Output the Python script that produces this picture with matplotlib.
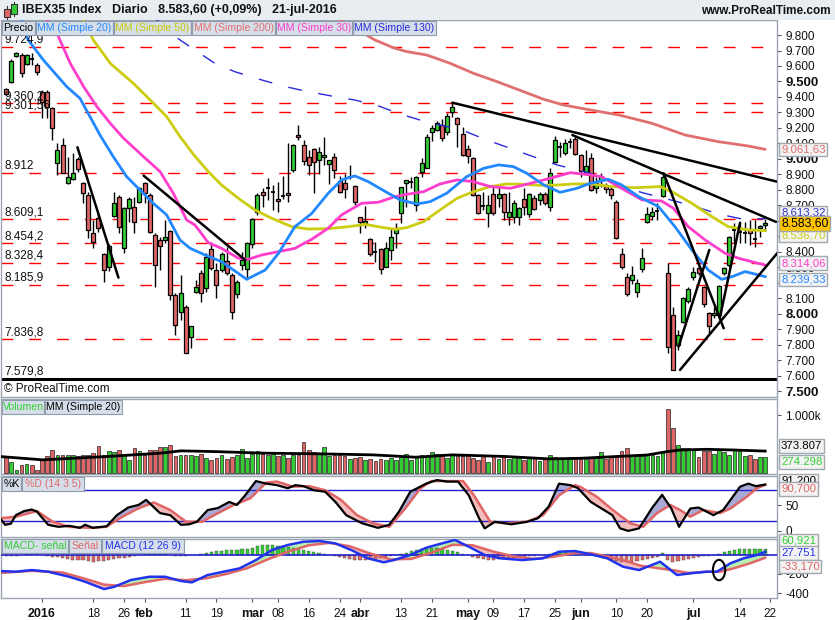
import numpy as np
import matplotlib
matplotlib.use('Agg')
import matplotlib.pyplot as plt
from matplotlib.patches import Rectangle, Ellipse
import matplotlib.transforms as mtransforms

plt.rcParams['font.family'] = ['Liberation Sans', 'DejaVu Sans']

# ---------------- data (trading-day index: 0 = 4-jan-2016) ----------------
day_index = list(range(-7, 142))
opens = [9449, 9499, 9665, 9671, 9613, 9645, 9604,
         9434, 9434, 9327, 8971, 9090, 8847, 8868, 8997, 8847, 8767, 8519, 8616, 8384, 8304, 8633, 8756, 8422, 8681, 8692, 8724,
         8847, 8767, 8508, 8476, 8476, 8534, 8121, 8013, 8046, 7852, 8138, 8261, 8164, 8416, 8282, 8282, 8338, 8248, 8125, 8315, 8287,
         8448, 8659, 8784, 8808, 8784, 8739, 8761, 8778, 8928, 9152, 9092, 9014, 9062, 8993, 9014, 8965, 9014, 8859, 8842, 8885, 8825,
         8623, 8584, 8481, 8401, 8416, 8304, 8412, 8519, 8653, 8847, 8853, 8702, 8913, 8943, 9176, 9187, 9219, 9172, 9305, 9266, 9159,
         9062, 9004, 8767, 8694, 8653, 8771, 8745, 8771, 8627, 8623, 8623, 8739, 8644, 8745, 8735, 8773, 8687, 8982, 9075, 9040, 9111, 9126,
         9025, 8913, 9004, 8810, 8864, 8825, 8803, 8724, 8384, 8235, 8218, 8143, 8287, 8595, 8633, 8659, 8760, 8261, 7992, 7798, 7949, 8082,
         8235, 8297, 8170, 8003, 7992, 7992, 8261, 8315, 8540, 8530, 8522, 8545, 8484, 8552, 8576]
highs = [9456, 9643, 9693, 9682, 9678, 9682, 9617,
         9445, 9445, 9337, 9101, 9133, 9014, 9036, 9014, 8853, 8788, 8605, 8648, 8390, 8450, 8788, 8767, 8692, 8756, 8756, 8821,
         8853, 8778, 8519, 8498, 8605, 8541, 8132, 8250, 8056, 7921, 8218, 8282, 8390, 8465, 8325, 8401, 8433, 8261, 8218, 8401, 8465,
         8616, 8778, 8810, 8875, 8831, 8853, 8890, 9101, 9096, 9219, 9122, 9057, 9068, 9075, 9139, 8993, 9040, 8890, 8900, 8961, 8830,
         8627, 8698, 8487, 8465, 8422, 8465, 8552, 8584, 8821, 8864, 8885, 8890, 9004, 9159, 9219, 9245, 9256, 9294, 9363, 9273, 9204,
         9090, 9010, 8771, 8788, 8767, 8831, 8831, 8778, 8788, 8735, 8692, 8810, 8782, 8767, 8788, 8788, 8939, 9148, 9111, 9129, 9133, 9154,
         9030, 9057, 9036, 8885, 8907, 8842, 8821, 8735, 8422, 8265, 8310, 8222, 8422, 8692, 8692, 8713, 8907, 8325, 8046, 7895, 8110, 8175,
         8304, 8325, 8179, 8013, 8046, 8186, 8304, 8502, 8584, 8588, 8595, 8605, 8605, 8573, 8610]
lows = [9413, 9492, 9660, 9531, 9607, 9607, 9542,
        9262, 9262, 9122, 8896, 8907, 8838, 8864, 8918, 8713, 8487, 8422, 8530, 8207, 8276, 8627, 8519, 8390, 8595, 8519, 8713,
        8713, 8519, 8175, 8282, 8455, 8089, 7863, 7960, 7744, 7777, 8132, 8078, 8143, 8282, 8099, 8272, 8250, 7964, 8099, 8282, 8229,
        8422, 8638, 8692, 8735, 8670, 8659, 8739, 8724, 8918, 9122, 8961, 8896, 8778, 8900, 8961, 8838, 8874, 8778, 8745, 8868, 8700,
        8524, 8552, 8373, 8336, 8254, 8300, 8347, 8422, 8588, 8692, 8810, 8666, 8885, 8939, 9116, 9180, 9116, 9154, 9273, 9079, 9021,
        8976, 8760, 8644, 8670, 8558, 8638, 8692, 8605, 8573, 8584, 8573, 8638, 8627, 8670, 8702, 8702, 8666, 8971, 9014, 9025, 9068, 9025,
        8885, 8907, 8795, 8782, 8821, 8778, 8739, 8481, 8287, 8115, 8192, 8106, 8272, 8584, 8605, 8605, 8756, 7744, 7637, 7766, 7938, 8067,
        8218, 8250, 8046, 7873, 7970, 7981, 8250, 8304, 8455, 8455, 8455, 8444, 8433, 8498, 8537]
closes = [9419, 9635, 9682, 9553, 9671, 9643, 9559,
          9370, 9337, 9198, 9057, 8911, 8885, 8908, 8933, 8782, 8541, 8465, 8552, 8282, 8437, 8717, 8562, 8685, 8739, 8595, 8810,
          8778, 8526, 8315, 8437, 8493, 8121, 7927, 8136, 7744, 7921, 8175, 8132, 8364, 8293, 8186, 8384, 8261, 8009, 8207, 8347, 8455,
          8610, 8767, 8767, 8812, 8784, 8730, 8765, 8765, 9088, 9139, 8987, 8961, 8982, 9047, 9027, 8991, 8928, 8784, 8803, 8885, 8720,
          8595, 8601, 8384, 8399, 8289, 8422, 8493, 8552, 8816, 8862, 8853, 8881, 8971, 9144, 9197, 9230, 9137, 9279, 9333, 9223, 9025,
          9019, 8767, 8648, 8692, 8700, 8653, 8771, 8659, 8659, 8717, 8681, 8692, 8771, 8674, 8773, 8713, 8911, 9122, 9075, 9105, 9111, 9032,
          8922, 8956, 8799, 8847, 8890, 8803, 8767, 8487, 8300, 8125, 8248, 8196, 8358, 8644, 8659, 8662, 8881, 7787, 7637, 7863, 8099, 8158,
          8267, 8261, 8061, 7921, 8003, 8181, 8297, 8498, 8545, 8530, 8526, 8524, 8481, 8569, 8583.6]
volume_k = [280, 190, 50, 135, 150, 135, 50,
            220, 290, 395, 310, 300, 310, 300, 280, 300, 310, 340, 460, 310, 380, 360, 390, 310, 220, 420, 370,
            310, 400, 390, 440, 450, 480, 280, 300, 300, 300, 290, 330, 260, 220, 260, 300, 230, 270, 300, 410, 250,
            320, 370, 330, 310, 330, 280, 300, 260, 300, 310, 530, 400, 360, 330, 440, 280, 310, 300, 280, 230, 260,
            270, 210, 230, 200, 230, 210, 250, 220, 270, 330, 220, 250, 300, 290, 360, 320, 320, 260, 330, 280, 280,
            300, 250, 210, 290, 190, 290, 240, 270, 230, 270, 250, 220, 250, 250, 200, 260, 310, 270, 240, 230, 260, 250,
            230, 230, 250, 260, 350, 240, 290, 290, 370, 430, 310, 280, 280, 330, 300, 280, 360, 1100, 780, 480, 420, 430,
            410, 270, 380, 380, 320, 400, 360, 310, 400, 370, 290, 300, 230, 270, 274.298]
macd_hist = [-15, -18, -15, -10, 5, 10, 8,
             -5, -15, -25, -30, -40, -50, -55, -60, -60, -70, -75, -70, -65, -55, -45, -40, -35, -25, -15, -5,
             10, 20, 25, 25, 15, -5, -15, -20, -20, -10, -5,
             10, 20, 30, 35, 40, 45, 45, 50, 55, 60,
             70, 85, 95, 100, 95, 90, 85,
             75, 65, 55, 45, 35, 25, 15, 5, -5, -15, -25,
             -35, -45, -55, -60, -55, -50, -45, -40, -30, -20, -10, 5,
             20, 35, 45, 55, 65, 70, 65, 60, 50, 40, 25, 10,
             -10, -25, -40, -50, -55, -55, -50, -45, -40, -35, -30, -25, -20, -15, -10, -5,
             10, 20, 25, 25, 20, 15, 10, 5,
             -10, -20, -30, -40, -55, -70, -80, -80, -75, -70, -60, -50, -40, -30,
             15,
             -60, -75, -70, -60, -50, -40, -30, -20, -15, -10,
             10, 25, 35, 45, 55, 60, 62, 60, 58, 60.921]

# moving averages read at sample positions (day index, value)
ma20_x = [-4, -2.7, 0.25, 4.8, 7.4, 9, 11.3, 13.9, 16.5, 19.1, 21.7, 24.3, 26.9, 28.9, 31.8, 35, 37.6, 39.9, 43.5, 46.1, 49.3, 52.6,
          55.8, 58.4, 61, 63.6, 66.2, 69.8, 73.1, 75.7, 78.9, 82.8, 86.1, 89, 91.9, 94.5, 97.8, 101, 104.3, 106.9, 110.4, 113,
          116.3, 120.2, 123.4, 126.7, 129.9, 132.5, 134.5, 137.1, 141]
ma20_y = [9900, 9768, 9639, 9467, 9391, 9294, 9154, 9014, 8885, 8799, 8713, 8638, 8476, 8422, 8379, 8336, 8276, 8222, 8282, 8390,
          8562, 8648, 8778, 8864, 8890, 8853, 8803, 8735, 8709, 8724, 8778, 8885, 8939, 8961, 8950, 8907, 8832, 8784, 8810, 8842,
          8868, 8832, 8756, 8692, 8562, 8412, 8282, 8222, 8239, 8272, 8239.33]
ma30_x = [1.0, 3.2, 5.5, 8.1, 10.7, 13.3, 15.9, 19.8, 23, 25.6, 28.2, 29.8, 30.8, 32.4, 35, 38.3, 40.2, 42.8, 46.1, 49.3, 52.6, 55.8,
          58.4, 62.3, 65.6, 68.8, 71.1, 74.4, 77.6, 80.9, 84.1, 87.4, 91.3, 95.2, 99.1, 103, 106.9, 109.1, 112.4, 117, 120.8,
          123.1, 126, 129.3, 133.2, 135.8, 141]
ma30_y = [9900, 9790, 9617, 9467, 9337, 9230, 9133, 9014, 8918, 8778, 8605, 8573, 8530, 8459, 8422, 8358, 8351, 8379, 8401, 8422,
          8481, 8552, 8638, 8713, 8720, 8756, 8771, 8788, 8838, 8864, 8853, 8821, 8810, 8842, 8875, 8911, 8896, 8885, 8821, 8735,
          8728, 8681, 8562, 8476, 8390, 8358, 8314.06]
ma50_x = [8, 10, 13.3, 17.8, 21.1, 24.3, 26.9, 29.5, 32.4, 35, 38.3, 41.5, 44.8, 48.7, 51.9, 55.8, 59.7, 63, 66.2, 68.8, 71.1, 74.4,
          77.6, 80.9, 84.1, 87.4, 90.6, 93.9, 97.1, 100.4, 103.6, 106.9, 111.1, 115.6, 120.5, 122.8, 126.7, 130.6, 133.8, 137.7, 141]
ma50_y = [9900, 9768, 9617, 9488, 9380, 9273, 9144, 9030, 8918, 8831, 8745, 8670, 8616, 8562, 8547, 8549, 8562, 8577, 8558, 8545,
          8556, 8595, 8670, 8745, 8788, 8821, 8838, 8836, 8829, 8831, 8838, 8838, 8821, 8814, 8821, 8788, 8713, 8627, 8562, 8541,
          8536.70]
ma200_x = [58, 64.9, 68.8, 71.1, 75, 79.6, 84.1, 88.7, 93.9, 97.8, 101.7, 105.9, 112.4, 118.9, 125.4, 131.9, 137.7, 141]
ma200_y = [9900, 9768, 9714, 9693, 9671, 9617, 9553, 9499, 9434, 9385, 9348, 9322, 9284, 9230, 9154, 9111, 9083, 9061.63]
ma130_x = [22, 25.5, 29.8, 33.7, 37.6, 42.8, 47.4, 51.9, 57.1, 61, 65.6, 69.8, 73.7, 77.6, 82.2, 86.7, 91.3, 95.8, 100.4,
           104.3, 106.9, 112, 117, 122.1, 127.3, 131.9, 136.4, 141]
ma130_y = [9910, 9800, 9703, 9617, 9563, 9510, 9467, 9434, 9402, 9380, 9342, 9290, 9251, 9219, 9182, 9122, 9068, 9014, 8961,
           8928, 8907, 8840, 8782, 8739, 8692, 8644, 8612, 8613.32]
vol_ma_x = [-8.2, 0.1, 12.6, 23, 27.1, 33.3, 43.7, 54.1, 64.5, 72.8, 80, 90.5, 98.8, 104.9, 111.3, 117.9, 121.8, 124.4, 129.6,
            134.8, 141]
vol_ma_y = [279, 221, 279, 337, 378, 366, 337, 326, 308, 267, 308, 279, 238, 248, 276, 305, 363, 393, 405, 393, 373.807]

stoch_k_x = [-8.2, -7.2, -6.1, -5.1, -3.5, -2, -1, 1.2, 3.2, 5.3, 7.4, 8.4, 9.9, 12.6, 14.6, 16.8, 18.8, 20.3, 23, 25, 27.1,
             28.7, 30.2, 32.3, 34.3, 36.5, 38, 39.6, 41.7, 43.7, 45.8, 47.9, 49.4, 51, 53, 55.2, 57.2, 59.3, 62.4, 65.5, 67.7,
             69.6, 71.8, 74.9, 77, 79, 81.1, 83.2, 85.2, 86.3, 88.3, 91.5, 94.6, 96.7, 98.8, 100.8, 103, 104.5, 107, 109.1,
             111.2, 112.7, 114.3, 116.4, 119, 120.9, 122.7, 124.2, 126.4, 128, 130.9, 132.8, 136.1, 137.7, 139.2, 141]
stoch_k_y = [25, 12, 14, 31, 39, 42, 38, 12, 8, 10, 6, 12, 6, 9, 31, 46, 51, 61, 35, 31, 12, 13, 18, 41, 45, 57, 51, 70, 98,
             93, 90, 84, 90, 88, 80, 77, 57, 31, 15, 6, 12, 38, 77, 93, 100, 97, 97, 70, 25, 5, 18, 13, 18, 25, 48, 93, 90, 84,
             57, 44, 31, 5, 0, 5, 46, 71, 44, 8, 44, 46, 31, 41, 87, 93, 88, 91.2]
stoch_d_x = [-8.2, -5.1, -1, 2.1, 5.3, 9.4, 12.5, 15.7, 18.7, 21.8, 25, 28.1, 31.2, 34.3, 37.4, 40.6, 43.7, 45.8, 48.9, 52.1,
             55.2, 58.3, 61.4, 64.5, 67.7, 70.8, 73.8, 75.9, 82.1, 84.2, 87.4, 90.5, 94.6, 97.7, 100.8, 103.9, 104.9, 108.2,
             111.3, 114.7, 117.2, 119.9, 122.5, 124.4, 126.4, 128.9, 132.2, 134.2, 137.4, 139.4, 141]
stoch_d_y = [25, 28, 39, 18, 8, 6, 8, 28, 44, 56, 41, 18, 18, 35, 51, 64, 95, 97, 87, 88, 80, 61, 31, 15, 8, 44, 84, 98, 98,
             70, 18, 15, 18, 31, 70, 90, 87, 67, 41, 15, 8, 35, 51, 41, 28, 41, 35, 44, 67, 84, 90.7]

macd_x = [-8.2, -5.1, -2, 1.2, 5.3, 8.4, 12.1, 14.1, 17.3, 20.9, 24, 27.1, 29.2, 32.3, 35.4, 38.5, 41.7, 44.8, 47.9, 51, 54.1,
          57.2, 60.3, 63.5, 66.6, 68.6, 71.8, 74.9, 78, 80.5, 83.2, 86.3, 89.4, 93.6, 97.7, 100.8, 103.9, 107, 110.2, 113.3,
          116.4, 120.5, 123.8, 126.4, 129.6, 131.6, 134.2, 136.8, 139.4, 141]
macd_y = [-170, -177, -160, -177, -229, -280, -356, -332, -263, -229, -229, -273, -287, -211, -177, -143, -57, 46, 98, 132,
          139, 115, 46, -39, -80, -57, -5, 70, 115, 150, 81, -5, -39, -57, -39, 29, 36, 2, -39, -126, -160, -74, -211, -194,
          -177, -177, -91, -39, -5, 27.751]
signal_x = [-8.2, -2, 4, 8.4, 12.1, 16, 20, 24, 28, 32, 36, 40, 44, 48, 52, 56, 60, 64, 68, 72, 76, 80, 84, 88, 92, 96, 100,
            104, 107, 110.2, 113.5, 116.7, 120, 123.4, 126, 129.6, 132.2, 134.8, 138, 141]
signal_y = [-190, -168, -185, -250, -310, -325, -285, -250, -265, -245, -200, -140, -50, 30, 95, 120, 85, 10, -50, -45, 20,
            100, 95, 30, -20, -45, -20, 15, 15, -20, -60, -115, -140, -165, -190, -177, -177, -143, -91, -33.17]

# horizontal support / resistance levels
level_values = [9724.9, 9360.2, 9301.56, 8912, 8609.1, 8454.2, 8328.4, 8185.9, 7836.8]
level_labels = ['9.724,9', '9.360,2', '9.301,56', '8.912', '8.609,1', '8.454,2', '8.328,4', '8.185,9', '7.836,8']
floor_value = 7579.8
floor_label = '7.579,8'

# hand-drawn trend lines ((day, price), (day, price))
trend_lines = [((6.9, 9075), (14.9, 8233)),
               ((19.8, 8892), (39.6, 8347)),
               ((80.0, 9363), (143.3, 8853)),
               ((103.4, 9154), (143.1, 8593)),
               ((121.2, 8907), (132.9, 7906)),
               ((124.1, 7787), (130.1, 8412)),
               ((132.2, 7981), (136.1, 8588)),
               ((124.4, 7637), (143.6, 8401))]

xtick_pos = [0, 10, 16, 20, 28, 34, 41, 46, 52, 58, 62, 70, 76, 83, 88, 94, 100, 105, 112, 118, 127, 136, 142]
xtick_lab = ['2016', '18', '26', 'feb', '11', '19', 'mar', '08', '16', '24', 'abr', '13', '21', 'may', '09', '17', '25',
             'jun', '10', '20', 'jul', '14', '22']
bold_ticks = {'2016', 'feb', 'mar', 'abr', 'may', 'jun', 'jul'}

# ---------------- figure ----------------
W, H = 835, 620
fig = plt.figure(figsize=(W / 100, H / 100), dpi=100)
fig.patch.set_facecolor('white')

GREEN = '#33CC33'
RED = '#E06666'
BORDER = '#9AA5B1'


def ax_px(x0, y0, x1, y1):
    return fig.add_axes([x0 / W, 1 - y1 / H, (x1 - x0) / W, (y1 - y0) / H])


def fig_rect(x0, y0, x1, y1, **kw):
    fig.patches.append(Rectangle((x0 / W, 1 - y1 / H), (x1 - x0) / W, (y1 - y0) / H,
                                 transform=fig.transFigure, **kw))


def es(v, dec=0):
    s = f"{v:,.{dec}f}"
    return s.replace(',', 'X').replace('.', ',').replace('X', '.')


# header strip
fig_rect(0, 0, W, 20, facecolor='#E8EDF2', edgecolor='none', zorder=0)
fig.lines.append(plt.Line2D([7 / W, 7 / W], [1 - 6 / H, 1 - 19 / H], transform=fig.transFigure, color='#333', lw=0.8))
fig_rect(4, 9, 10, 17, facecolor=RED, edgecolor='#333', lw=0.8, zorder=2)
fig.lines.append(plt.Line2D([14 / W, 14 / W], [1 - 2 / H, 1 - 16 / H], transform=fig.transFigure, color='#333', lw=0.8))
fig_rect(11, 4, 17, 14, facecolor=GREEN, edgecolor='#333', lw=0.8, zorder=2)
fig.text(22 / W, 1 - 10.5 / H, 'IBEX35 Index   Diario   8.583,60 (+0,09%)   21-jul-2016', fontsize=9,
         fontweight='bold', va='center', ha='left', color='#111')
fig.text(831 / W, 1 - 10.5 / H, 'www.ProRealTime.com', fontsize=8.5, fontweight='bold', va='center', ha='right',
         color='#111')

ax = ax_px(1, 20, 777, 397)
axv = ax_px(1, 399, 777, 474)
axs = ax_px(1, 476, 777, 537)
axm = ax_px(1, 539, 777, 598)

XMIN, XMAX = -8.0, 143.3
for a in (ax, axv, axs, axm):
    a.set_xlim(XMIN, XMAX)
    a.set_facecolor('white')
    for sp in a.spines.values():
        sp.set_color(BORDER)
        sp.set_linewidth(1)
    a.yaxis.tick_right()
    a.tick_params(axis='y', length=3, color='#555', labelsize=8.5, pad=3, labelcolor='#111')
    a.set_xticks([])

# ---------------- main price panel ----------------
ax.set_ylim(7462, 9897)
ylab_tr = ax.get_yaxis_transform()
for v, lab in zip(level_values, level_labels):
    ax.axhline(v, color='#FF0000', lw=1.0, ls=(0, (8.5, 11.5)), zorder=1)
    ax.text(0.004, v + 6, lab, transform=ylab_tr, fontsize=8.5, va='bottom', ha='left', color='#111', zorder=6)
ax.axhline(floor_value, color='black', lw=2.2, zorder=2)
ax.text(0.004, floor_value + 8, floor_label, transform=ylab_tr, fontsize=8.5, va='bottom', ha='left',
        color='#111', zorder=6)
ax.text(0.004, 7475, '\u00a9 ProRealTime.com', transform=ylab_tr, fontsize=8.5, va='bottom',
        ha='left', color='#111', zorder=6)

# candles
BW = 0.78
for i, o, h, l, c in zip(day_index, opens, highs, lows, closes):
    ax.vlines(i, l, h, color='black', lw=1.0, zorder=3)
    if abs(c - o) < 6:
        ax.hlines((o + c) / 2, i - BW / 2, i + BW / 2, color='black', lw=1.3, zorder=4)
    else:
        ax.add_patch(Rectangle((i - BW / 2, min(o, c)), BW, abs(c - o), facecolor=GREEN if c > o else RED,
                               edgecolor='black', lw=0.9, zorder=4))

ax.plot(ma200_x, ma200_y, color='#E07070', lw=2.0, zorder=5, solid_capstyle='round')
ax.plot(ma130_x, ma130_y, color='#2A2ADD', lw=1.0, ls=(0, (10, 12)), zorder=5)
ax.plot(ma50_x, ma50_y, color='#CCCC11', lw=2.0, zorder=5)
ax.plot(ma30_x, ma30_y, color='#FF3DCB', lw=2.0, zorder=5)
ax.plot(ma20_x, ma20_y, color='#2288FF', lw=2.0, zorder=5)

for (x0, y0), (x1, y1) in trend_lines:
    ax.plot([x0, x1], [y0, y1], color='black', lw=1.8, zorder=6, solid_capstyle='round')

yt = np.arange(7500, 9801, 100)
ax.set_yticks(yt)
ax.set_yticklabels([es(v) for v in yt])
for t, v in zip(ax.get_yticklabels(), yt):
    if v % 500 == 0:
        t.set_fontweight('bold')
        t.set_fontsize(9.5)


def tag(axis, value, text, color, fc='#F3F3F3', dy=0, size=8.2, weight='normal'):
    tr = mtransforms.blended_transform_factory(axis.transAxes, axis.transData)
    axis.annotate(text, xy=(1.0, value), xycoords=tr, xytext=(4, dy), textcoords='offset pixels',
                  va='center', ha='left', fontsize=size, color=color, fontweight=weight, zorder=10,
                  annotation_clip=False,
                  bbox=dict(boxstyle='square,pad=0.15', facecolor=fc, edgecolor='#A0A8B0', lw=1.0))


tag(ax, ma200_y[-1], es(ma200_y[-1], 2), '#E07070')
tag(ax, ma130_y[-1], es(ma130_y[-1], 2), '#3333CC', dy=6)
tag(ax, ma50_y[-1], es(ma50_y[-1], 2), '#CCCC11', dy=-5)
tag(ax, closes[-1], es(closes[-1], 2), 'black', fc='#FFC400', size=8.8)
tag(ax, ma30_y[-1], es(ma30_y[-1], 2), '#FF3DCB', dy=2)
tag(ax, ma20_y[-1], es(ma20_y[-1], 2), '#2288FF', dy=-3)

# ---------------- volume panel ----------------
axv.set_ylim(-26, 1283)
vcols = [GREEN if c >= o else RED for o, c in zip(opens, closes)]
axv.bar(day_index, volume_k, width=0.72, color=vcols, edgecolor='#222', lw=0.5, zorder=3)
axv.plot(vol_ma_x, vol_ma_y, color='black', lw=2.0, zorder=4)
axv.set_yticks([1000])
axv.set_yticklabels(['1.000k'])
tag(axv, vol_ma_y[-1], es(vol_ma_y[-1] * 1000), 'black', dy=5)
tag(axv, volume_k[-1], es(volume_k[-1] * 1000), GREEN, dy=-5)

# ---------------- stochastic panel ----------------
axs.set_ylim(-12, 108)
axs.axhline(20, color='#2222CC', lw=1.0, zorder=2)
axs.axhline(80, color='#2222CC', lw=1.0, zorder=2)
g = np.linspace(-8.2, 141, 1500)
ki = np.interp(g, stoch_k_x, stoch_k_y)
di = np.interp(g, stoch_d_x, stoch_d_y)
axs.fill_between(g, ki, di, where=ki >= di, interpolate=True, color='#A9A9D6', lw=0, zorder=1)
axs.fill_between(g, ki, di, where=ki < di, interpolate=True, color='#F4BDBD', lw=0, zorder=1)
axs.plot(stoch_d_x, stoch_d_y, color='#E06666', lw=1.8, zorder=3)
axs.plot(stoch_k_x, stoch_k_y, color='black', lw=1.6, zorder=4)
axs.set_yticks([0, 50])
axs.set_yticklabels(['0', '50'])
tag(axs, stoch_k_y[-1], '91,200', 'black', dy=4)
tag(axs, stoch_d_y[-1], es(stoch_d_y[-1], 3), '#E06666', dy=-4)

# ---------------- MACD panel ----------------
axm.set_ylim(-448, 160)
hcols = [GREEN if v >= 0 else RED for v in macd_hist]
axm.bar(day_index, macd_hist, width=0.62, color=hcols, edgecolor='#444', lw=0.3, zorder=2)
g2 = np.linspace(-8.2, 141, 1500)
mi = np.interp(g2, macd_x, macd_y)
si = np.interp(g2, signal_x, signal_y)
axm.fill_between(g2, mi, si, where=mi >= si, interpolate=True, color='#B6F0B0', lw=0, zorder=1)
axm.fill_between(g2, mi, si, where=mi < si, interpolate=True, color='#F4BDBD', lw=0, zorder=1)
axm.axhline(0, color='#2222CC', lw=1.2, zorder=3)
axm.plot(signal_x, signal_y, color='#E06666', lw=1.8, zorder=4)
axm.plot(macd_x, macd_y, color='#2233EE', lw=1.8, zorder=5)
axm.add_patch(Ellipse((132, -160), 2.4, 210, fill=False, edgecolor='black', lw=1.5, zorder=6))
axm.set_yticks([-400, -200])
axm.set_yticklabels(['-400', '-200'])
tag(axm, macd_hist[-1], '60,921', GREEN, dy=8)
tag(axm, macd_y[-1], '27.751', '#2233EE', dy=-1)
tag(axm, signal_y[-1], '-33,170', '#E06666', dy=-9)

axm.set_xticks(xtick_pos)
axm.set_xticklabels(xtick_lab)
axm.tick_params(axis='x', length=3, color='#555', labelsize=8.5, pad=4, labelcolor='#111')
for t in axm.get_xticklabels():
    if t.get_text() in bold_ticks:
        t.set_fontweight('bold')
        t.set_fontsize(9)


# ---------------- legend buttons (fixed pixel boxes) ----------------
def button(x0, x1, y0, y1, text, color):
    fig_rect(x0, y0, x1, y1, facecolor='#D6DFE9', edgecolor='#8E9CAC', lw=0.8, zorder=15)
    fig.text((x0 + x1) / 2 / W, 1 - (y0 + y1) / 2 / H, text, fontsize=7.6, color=color, va='center',
             ha='center', zorder=20)


button(2, 35, 21, 35, 'Precio', 'black')
button(36, 113, 21, 35, 'MM (Simple 20)', '#2288FF')
button(114, 191, 21, 35, 'MM (Simple 50)', '#C8C800')
button(192, 275, 21, 35, 'MM (Simple 200)', '#E07070')
button(276, 352, 21, 35, 'MM (Simple 30)', '#FF3DCB')
button(353, 436, 21, 35, 'MM (Simple 130)', '#2A2ADD')
button(2, 44, 400, 414, 'Volumen', '#33CC33')
button(45, 122, 400, 414, 'MM (Simple 20)', 'black')
button(2, 21, 477, 491, '%K', 'black')
button(22, 84, 477, 491, '%D (14 3 5)', '#E06666')
button(2, 68, 539, 553, 'MACD- se\u00f1al', '#33CC33')
button(69, 101, 539, 553, 'Se\u00f1al', '#E06666')
button(102, 184, 539, 553, 'MACD (12 26 9)', '#2233EE')

fig.savefig('out.png', dpi=100, facecolor='white')
